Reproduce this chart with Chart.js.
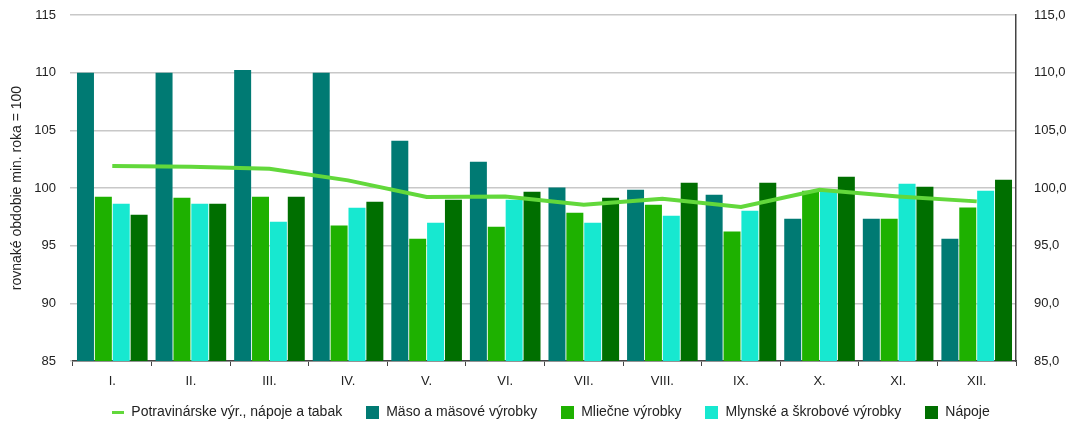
<!DOCTYPE html>
<html lang="sk">
<head>
<meta charset="UTF-8">
<title>Indexy cien</title>
<script src="https://cdn.jsdelivr.net/npm/chart.js"></script>
<style>
  body { margin: 0; background: #fff; }
</style>
</head>
<body>
<canvas id="graf" width="1075" height="421"></canvas>
<script>
// mesiace
var mesiace = ["I.", "II.", "III.", "IV.", "V.", "VI.", "VII.", "VIII.", "IX.", "X.", "XI.", "XII."];

// hodnoty odcitane z obrazka
var potraviny = [101.9, 101.84, 101.67, 100.66, 99.22, 99.27, 98.55, 99.07, 98.35, 99.85, 99.27, 98.84];
var maso      = [110.0, 110.0, 110.23, 110.0, 104.09, 102.27, 100.05, 99.85, 99.42, 97.34, 97.34, 95.61];
var mliecne   = [99.24, 99.16, 99.24, 96.74, 95.61, 96.65, 97.86, 98.55, 96.22, 99.76, 97.34, 98.32];
var mlynske   = [98.64, 98.64, 97.08, 98.29, 96.99, 98.98, 96.99, 97.6, 98.03, 99.78, 100.37, 99.76];
var napoje    = [97.69, 98.64, 99.24, 98.81, 98.98, 99.68, 99.16, 100.46, 100.46, 100.97, 100.11, 100.72];

var font = "'Liberation Sans', Arial, sans-serif";
Chart.defaults.font.family = font;
Chart.defaults.font.size = 13;
Chart.defaults.color = "#222";

// malé obrázky pre legendu
function znacka(farba, w, h) {
    var c = document.createElement("canvas");
    c.width = w;
    c.height = h;
    var g = c.getContext("2d");
    g.fillStyle = farba;
    g.fillRect(0, 0, w, h);
    return c;
}

function stlpec(nazov, data, farba) {
    return {
        type: "bar",
        label: nazov,
        data: data,
        backgroundColor: farba,
        borderWidth: 0,
        pointStyle: znacka(farba, 13, 13),
        order: 1,
        yAxisID: "y"
    };
}

var ctx = document.getElementById("graf").getContext("2d");
var graf = new Chart(ctx, {
    type: "bar",
    data: {
        labels: mesiace,
        datasets: [
            {
                type: "line",
                label: "Potravinárske výr., nápoje a tabak",
                data: potraviny,
                borderColor: "#62d83b",
                backgroundColor: "#62d83b",
                borderWidth: 4,
                pointRadius: 0,
                tension: 0,
                pointStyle: znacka("#62d83b", 12, 3),
                order: 0,
                yAxisID: "y"
            },
            stlpec("Mäso a mäsové výrobky", maso, "#007a73"),
            stlpec("Mliečne výrobky", mliecne, "#1eb100"),
            stlpec("Mlynské a škrobové výrobky", mlynske, "#17e8d0"),
            stlpec("Nápoje", napoje, "#006f00")
        ]
    },
    options: {
        responsive: false,
        animation: false,
        layout: { padding: { top: 15, left: 0, right: 0, bottom: 0 } },
        datasets: {
            bar: { categoryPercentage: 0.91, barPercentage: 0.95 }
        },
        plugins: {
            tooltip: { enabled: false },
            legend: {
                position: "bottom",
                labels: {
                    usePointStyle: true,
                    boxWidth: 13,
                    boxHeight: 13,
                    padding: 24,
                    color: "#222",
                    font: { size: 14 }
                }
            }
        },
        scales: {
            x: {
                grid: { display: true, drawOnChartArea: false, offset: true, tickLength: 5, color: "#444" },
                border: { display: true, color: "#444", width: 1.5 },
                ticks: { padding: 8, color: "#222" },
                afterFit: function (s) { s.height = 30; }
            },
            y: {
                position: "left",
                min: 85,
                max: 115,
                ticks: { stepSize: 5, padding: 14, color: "#222" },
                grid: { color: "#c8c8c8", lineWidth: 1.5, tickLength: 3 },
                border: { display: false },
                title: {
                    display: true,
                    text: "rovnaké obdobie min. roka = 100",
                    color: "#222",
                    font: { size: 14 },
                    padding: { top: 9, bottom: 0 }
                },
                afterFit: function (s) { s.width = 73; s.paddingTop = 0; s.paddingBottom = 0; }
            },
            y1: {
                position: "right",
                min: 85,
                max: 115,
                ticks: {
                    stepSize: 5,
                    padding: 18,
                    color: "#222",
                    callback: function (v) { return v.toFixed(1).replace(".", ","); }
                },
                grid: { drawOnChartArea: false, drawTicks: false },
                border: { display: true, color: "#444", width: 1.5 },
                afterFit: function (s) { s.width = 59; s.paddingTop = 0; s.paddingBottom = 0; }
            }
        }
    }
});

// legenda: nizsia vyska, posun ako v predlohe
var leg = graf.legend;
var povodnyFit = leg.fit;
leg.fit = function () {
    povodnyFit.apply(this, arguments);
    this.height = 30;
};
var povodneKreslenie = leg.draw;
leg.draw = function () {
    var t = this.top, l = this.left, r = this.right;
    this.top = t - 10;
    this.left = l + 13;
    this.right = r + 13;
    povodneKreslenie.apply(this, arguments);
    this.top = t;
    this.left = l;
    this.right = r;
};
graf.update();
</script>
</body>
</html>
